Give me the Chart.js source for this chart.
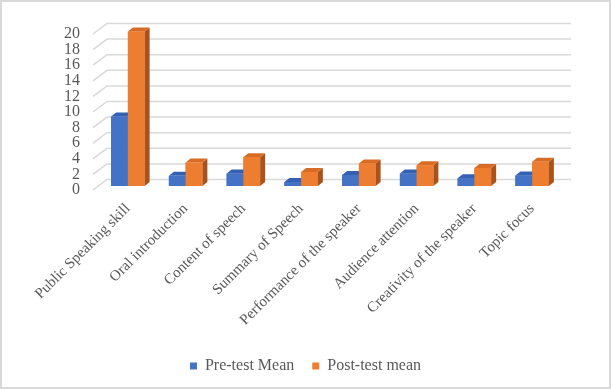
<!DOCTYPE html>
<html>
<head>
<meta charset="utf-8">
<script src="https://cdn.jsdelivr.net/npm/chart.js@4"></script>
<style>
  html, body { margin: 0; padding: 0; background: #fff; }
  #wrap { position: relative; width: 611px; height: 389px; }
  #frame { position: absolute; left: 0; top: 0; width: 611px; height: 389px; box-sizing: border-box; border: 2px solid #d9d9d9; pointer-events: none; }
  canvas { position: absolute; left: 0; top: 0; }
</style>
</head>
<body>
<div id="wrap">
  <canvas id="skillChart" width="611" height="389"></canvas>
  <div id="frame"></div>
</div>
<script>
const categories = [
  "Public Speaking skill",
  "Oral introduction",
  "Content of speech",
  "Summary of Speech",
  "Performance of the speaker",
  "Audience attention",
  "Creativity of the speaker",
  "Topic focus",
];
const preTestMean = [8.9, 1.3, 1.6, 0.5, 1.4, 1.6, 1.0, 1.35];
const postTestMean = [19.8, 3.0, 3.7, 1.8, 2.9, 2.65, 2.3, 3.1];
const yMax = 20;
const yStep = 2;

const fronts = ["#4472c4", "#ed7d31"];
const tops = ["#3461b3", "#d96c25"];
const sides = ["#2f5597", "#a8531b"];
const DX = 5, DY = 4;

// back-wall gridlines with the little diagonal to the front labels
const wallGrid = {
  id: "wallGrid",
  beforeDatasetsDraw(chart) {
    const ctx = chart.ctx;
    const a = chart.chartArea;
    const y = chart.scales.y;
    ctx.save();
    ctx.strokeStyle = "#d9d9d9";
    ctx.lineWidth = 1.5;
    y.ticks.forEach((t) => {
      const py = y.getPixelForValue(t.value);
      ctx.beginPath();
      ctx.moveTo(a.left - 6, py + 4);
      ctx.lineTo(a.left + 8, py - 6.5);
      ctx.lineTo(a.right + 10, py - 6.5);
      ctx.stroke();
    });
    ctx.restore();
  },
};

// fake 3d: side and top faces for each bar
const bars3d = {
  id: "bars3d",
  afterDatasetsDraw(chart) {
    const ctx = chart.ctx;
    ctx.save();
    for (let i = 0; i < categories.length; i++) {
      for (let d = 0; d < chart.data.datasets.length; d++) {
        const el = chart.getDatasetMeta(d).data[i];
        const p = el.getProps(["x", "y", "base", "width"], true);
        const l = p.x - p.width / 2, r = p.x + p.width / 2;
        ctx.fillStyle = sides[d];
        ctx.beginPath();
        ctx.moveTo(r, p.y);
        ctx.lineTo(r + DX, p.y - DY);
        ctx.lineTo(r + DX, p.base - DY);
        ctx.lineTo(r, p.base);
        ctx.closePath();
        ctx.fill();
        ctx.fillStyle = tops[d];
        ctx.beginPath();
        ctx.moveTo(l, p.y);
        ctx.lineTo(l + DX, p.y - DY);
        ctx.lineTo(r + DX, p.y - DY);
        ctx.lineTo(r, p.y);
        ctx.closePath();
        ctx.fill();
        ctx.fillStyle = fronts[d];
        ctx.fillRect(l, p.y, p.width, p.base - p.y);
      }
    }
    ctx.restore();
  },
};

const serif = "'Liberation Serif', 'DejaVu Serif', serif";

new Chart(document.getElementById("skillChart"), {
  type: "bar",
  data: {
    labels: categories,
    datasets: [
      {
        label: "Pre-test Mean",
        data: preTestMean,
        backgroundColor: fronts[0],
        categoryPercentage: 0.58,
        barPercentage: 1.0,
      },
      {
        label: "Post-test mean",
        data: postTestMean,
        backgroundColor: fronts[1],
        categoryPercentage: 0.58,
        barPercentage: 1.0,
      },
    ],
  },
  options: {
    responsive: false,
    animation: false,
    layout: { padding: { top: 30, right: 0, left: 0, bottom: 5 } },
    plugins: {
      legend: {
        position: "bottom",
        labels: {
          color: "#595959",
          font: { family: serif, size: 16 },
          boxWidth: 7,
          boxHeight: 7,
          padding: 18,
        },
      },
      tooltip: { enabled: false },
    },
    scales: {
      x: {
        grid: { display: false, drawTicks: false },
        border: { display: false },
        ticks: {
          color: "#595959",
          font: { family: serif, size: 15 },
          maxRotation: 45,
          minRotation: 45,
          autoSkip: false,
          padding: 14,
        },
        afterFit(s) {
          const lg = s.chart.legend ? s.chart.legend.height : 34;
          s.height = s.chart.height - 186 - lg - 5;
        },
      },
      y: {
        min: 0,
        max: yMax,
        grid: { display: false, drawTicks: false },
        border: { display: false },
        ticks: {
          stepSize: yStep,
          autoSkip: false,
          color: "#595959",
          font: { family: serif, size: 16 },
          padding: 19,
          labelOffset: 4,
        },
        afterFit(s) {
          s.width = 99;
        },
      },
      // empty right axis, only keeps the plot off the right edge
      yRight: {
        position: "right",
        grid: { display: false, drawTicks: false },
        border: { display: false },
        ticks: { display: false },
        afterFit(s) {
          s.width = 50;
        },
      },
    },
  },
  plugins: [wallGrid, bars3d],
});
</script>
</body>
</html>
